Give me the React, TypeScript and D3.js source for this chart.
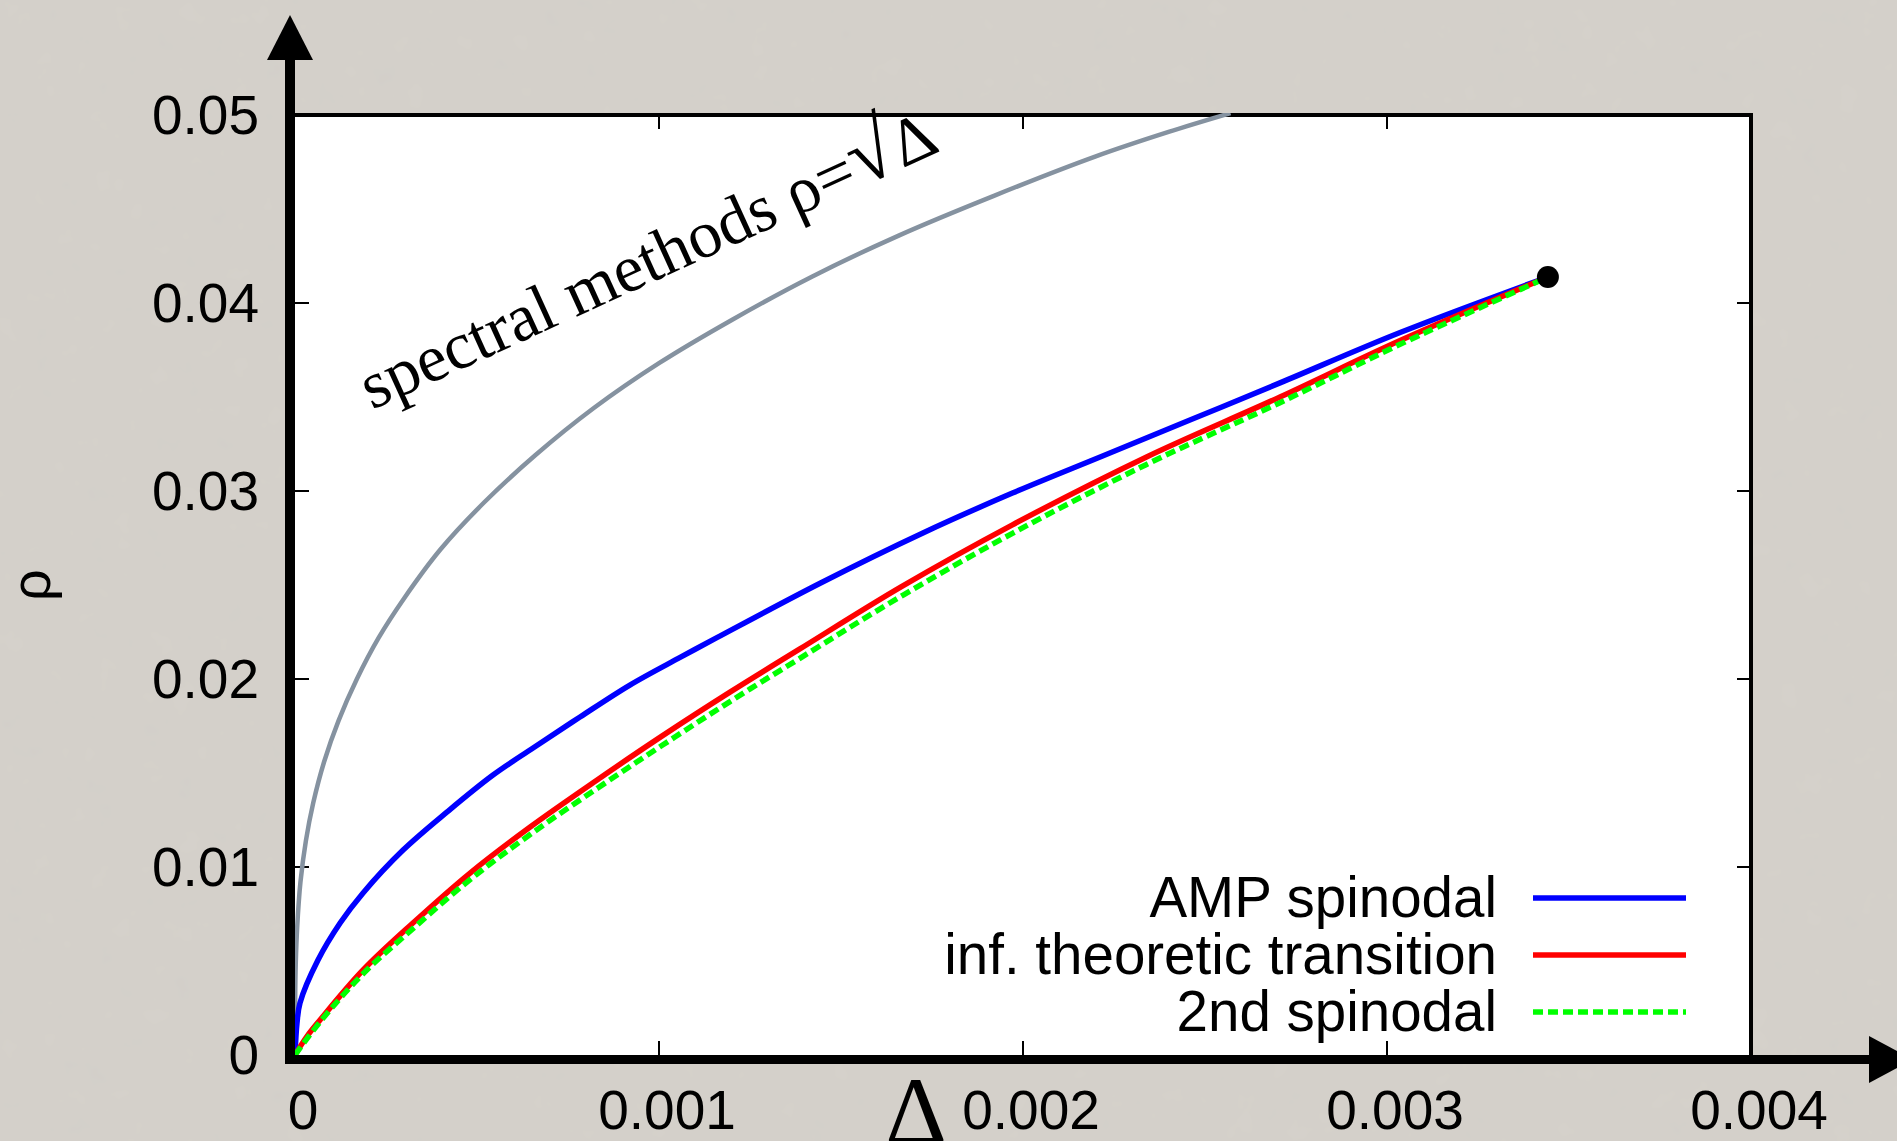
import React from 'react';
import * as d3 from 'd3';

const W = 1897;
const H = 1141;

// ---- data ----
const deltaTicks = [0, 0.001, 0.002, 0.003, 0.004];
const deltaTickLabels = ['0', '0.001', '0.002', '0.003', '0.004'];
const rhoTicks = [0, 0.01, 0.02, 0.03, 0.04, 0.05];
const rhoTickLabels = ['0', '0.01', '0.02', '0.03', '0.04', '0.05'];

// spectral methods curve (grey)
const spectralDelta = [0, 0.0000005, 0.000002, 0.000006, 0.000015, 0.00003, 0.00005, 0.00008, 0.00012, 0.00017, 0.00023, 0.0003, 0.0004, 0.00052, 0.00066, 0.00082, 0.001, 0.0012, 0.00142, 0.00166, 0.00192, 0.0022, 0.0024, 0.00257];
const spectralRho = [0, 0.003, 0.0048, 0.0068, 0.0092, 0.0114, 0.0134, 0.0156, 0.0178, 0.02, 0.0222, 0.0243, 0.0269, 0.0294, 0.0319, 0.0344, 0.0368, 0.0391, 0.0414, 0.0436, 0.0457, 0.0478, 0.0491, 0.0501];

// AMP spinodal (blue)
const ampDelta = [0, 0.0000055, 0.0000137, 0.0000632, 0.000124, 0.000187, 0.000297, 0.000418, 0.000544, 0.000654, 0.000783, 0.00092, 0.001058, 0.001159, 0.001444, 0.001725, 0.001971, 0.002217, 0.002462, 0.002706, 0.003036, 0.003442];
const ampRho = [0, 0.0017, 0.00277, 0.00505, 0.00702, 0.00862, 0.0109, 0.01293, 0.01489, 0.01633, 0.01798, 0.01968, 0.02115, 0.0222, 0.02511, 0.02777, 0.02989, 0.03185, 0.0338, 0.03575, 0.03843, 0.04138];

// inf. theoretic transition (red)
const itDelta = [0, 0.0000321, 0.0000687, 0.000187, 0.000324, 0.000481, 0.000646, 0.00083, 0.001011, 0.001195, 0.001387, 0.001665, 0.001971, 0.002338, 0.002706, 0.003036, 0.003442];
const itRho = [0, 0.00097, 0.00186, 0.00452, 0.00702, 0.00968, 0.01213, 0.01463, 0.017, 0.0193, 0.0216, 0.0249, 0.0282, 0.0318, 0.035, 0.038, 0.04138];

// 2nd spinodal (green, dashed)
const secondDelta = [0, 0.0000687, 0.000187, 0.000324, 0.000481, 0.000646, 0.00083, 0.001011, 0.001195, 0.001387, 0.001665, 0.001971, 0.002338, 0.002706, 0.003036, 0.003442];
const secondRho = [0, 0.00176, 0.00432, 0.00672, 0.00933, 0.01173, 0.01418, 0.0165, 0.0188, 0.0211, 0.0244, 0.02775, 0.0314, 0.0347, 0.0378, 0.04138];

// end point
const endDelta = [0.003442];
const endRho = [0.04138];

const legendLabels = ['AMP spinodal', 'inf. theoretic transition', '2nd spinodal'];
const legendColors = ['#0000ff', '#ff0000', '#00ff00'];
const legendDash = [null, null, '10,5'];

const SANS = '"Liberation Sans", Arial, Helvetica, sans-serif';
const SERIF = '"Liberation Serif", "Times New Roman", serif';

export default function App() {
  const x = d3.scaleLinear().domain([0, 0.004]).range([295, 1751]);
  const y = d3.scaleLinear().domain([0, 0.05]).range([1055, 115]);

  const line = d3
    .line<[number, number]>()
    .x((d) => x(d[0]))
    .y((d) => y(d[1]))
    .curve(d3.curveCatmullRom.alpha(0.5));

  const zip = (a: number[], b: number[]) => a.map((v, i) => [v, b[i]] as [number, number]);

  const left = x(0);
  const right = x(0.004);
  const top = y(0.05);
  const bottom = y(0);
  const tickLen = 14;

  const legendTextX = 1497;
  const legendLineX0 = 1533;
  const legendLineX1 = 1686;
  const legendRowY = [898, 955, 1012];

  return (
    <svg
      width={W}
      height={H}
      style={{ position: 'absolute', left: 0, top: 0, display: 'block' }}
      xmlns="http://www.w3.org/2000/svg"
    >
      <defs>
        <clipPath id="plotclip">
          <rect x={left} y={top - 2} width={right - left} height={bottom - top + 2} />
        </clipPath>
        <filter id="paper" x="0" y="0" width="100%" height="100%">
          <feTurbulence type="fractalNoise" baseFrequency="0.035" numOctaves="3" seed="4" result="n" />
          <feColorMatrix
            type="matrix"
            values="0 0 0 0 0.5  0 0 0 0 0.49  0 0 0 0 0.47  0 0 0 0.10 0"
          />
          <feComposite in2="SourceGraphic" operator="over" />
        </filter>
      </defs>

      {/* background */}
      <rect x={0} y={0} width={W} height={H} fill="#d5d1cb" />
      <rect x={0} y={0} width={W} height={H} fill="#d5d1cb" filter="url(#paper)" />

      {/* plot area */}
      <rect x={left} y={top} width={right - left} height={bottom - top} fill="#ffffff" />

      {/* frame top and right */}
      <line x1={left - 5} x2={right + 2} y1={top} y2={top} stroke="#000" strokeWidth={4} />
      <line x1={right} x2={right} y1={top - 2} y2={bottom} stroke="#000" strokeWidth={4} />

      {/* ticks */}
      {deltaTicks.map((t, i) =>
        i > 0 && i < deltaTicks.length - 1 ? (
          <g key={'xt' + i}>
            <line x1={x(t)} x2={x(t)} y1={bottom} y2={bottom - tickLen} stroke="#000" strokeWidth={2} />
            <line x1={x(t)} x2={x(t)} y1={top} y2={top + tickLen} stroke="#000" strokeWidth={2} />
          </g>
        ) : null
      )}
      {rhoTicks.map((t, i) =>
        i > 0 && i < rhoTicks.length - 1 ? (
          <g key={'yt' + i}>
            <line x1={left} x2={left + tickLen} y1={y(t)} y2={y(t)} stroke="#000" strokeWidth={2} />
            <line x1={right} x2={right - tickLen} y1={y(t)} y2={y(t)} stroke="#000" strokeWidth={2} />
          </g>
        ) : null
      )}

      {/* curves */}
      <g clipPath="url(#plotclip)" fill="none" strokeLinejoin="round">
        <path d={line(zip(spectralDelta, spectralRho)) || ''} stroke="#8592a0" strokeWidth={4.5} />
        <path d={line(zip(ampDelta, ampRho)) || ''} stroke="#0000ff" strokeWidth={5.5} />
        <path d={line(zip(itDelta, itRho)) || ''} stroke="#ff0000" strokeWidth={5.5} />
        <path d={line(zip(secondDelta, secondRho)) || ''} stroke="#00ff00" strokeWidth={5.5} strokeDasharray="10,5" />
      </g>
      {endDelta.map((d, i) => (
        <circle key={'end' + i} cx={x(d)} cy={y(endRho[i])} r={11} fill="#000" />
      ))}

      {/* axes: thick lines with arrows */}
      <rect x={285} y={58} width={10} height={1064 - 58} fill="#000" />
      <path d="M290,15 L313,60 L267,60 Z" fill="#000" />
      <rect x={285} y={1055} width={1870 - 285} height={9} fill="#000" />
      <path d="M1869,1036 L1913,1059.5 L1869,1083 Z" fill="#000" />

      {/* tick labels */}
      {deltaTicks.map((t, i) => (
        <text
          key={'xl' + i}
          x={x(t) + 8}
          y={1129}
          textAnchor="middle"
          fontFamily={SANS}
          fontSize={55}
          fill="#000"
        >
          {deltaTickLabels[i]}
        </text>
      ))}
      {rhoTicks.map((t, i) => (
        <text
          key={'yl' + i}
          x={259}
          y={y(t) + 19}
          textAnchor="end"
          fontFamily={SANS}
          fontSize={55}
          fill="#000"
        >
          {rhoTickLabels[i]}
        </text>
      ))}

      {/* axis labels */}
      <text
        transform="translate(50,585) rotate(-90)"
        textAnchor="middle"
        fontFamily={SANS}
        fontSize={56}
        fill="#000"
      >
        ρ
      </text>
      <text x={916} y={1143} textAnchor="middle" fontFamily={SERIF} fontSize={96} fill="#000">
        Δ
      </text>

      {/* annotation */}
      <text
        transform="translate(372,410) rotate(-24.5)"
        fontFamily={SERIF}
        fontSize={67}
        fill="#000"
        textLength={626}
        lengthAdjust="spacing"
      >
        spectral methods ρ=<tspan fontSize={84}>√</tspan>Δ
      </text>

      {/* legend */}
      {legendLabels.map((lab, i) => (
        <g key={'lg' + i}>
          <text
            x={legendTextX}
            y={legendRowY[i] + 19}
            textAnchor="end"
            fontFamily={SANS}
            fontSize={56.5}
            fill="#000"
          >
            {lab}
          </text>
          <line
            x1={legendLineX0}
            x2={legendLineX1}
            y1={legendRowY[i]}
            y2={legendRowY[i]}
            stroke={legendColors[i]}
            strokeWidth={5.5}
            strokeDasharray={legendDash[i] || undefined}
          />
        </g>
      ))}
    </svg>
  );
}
